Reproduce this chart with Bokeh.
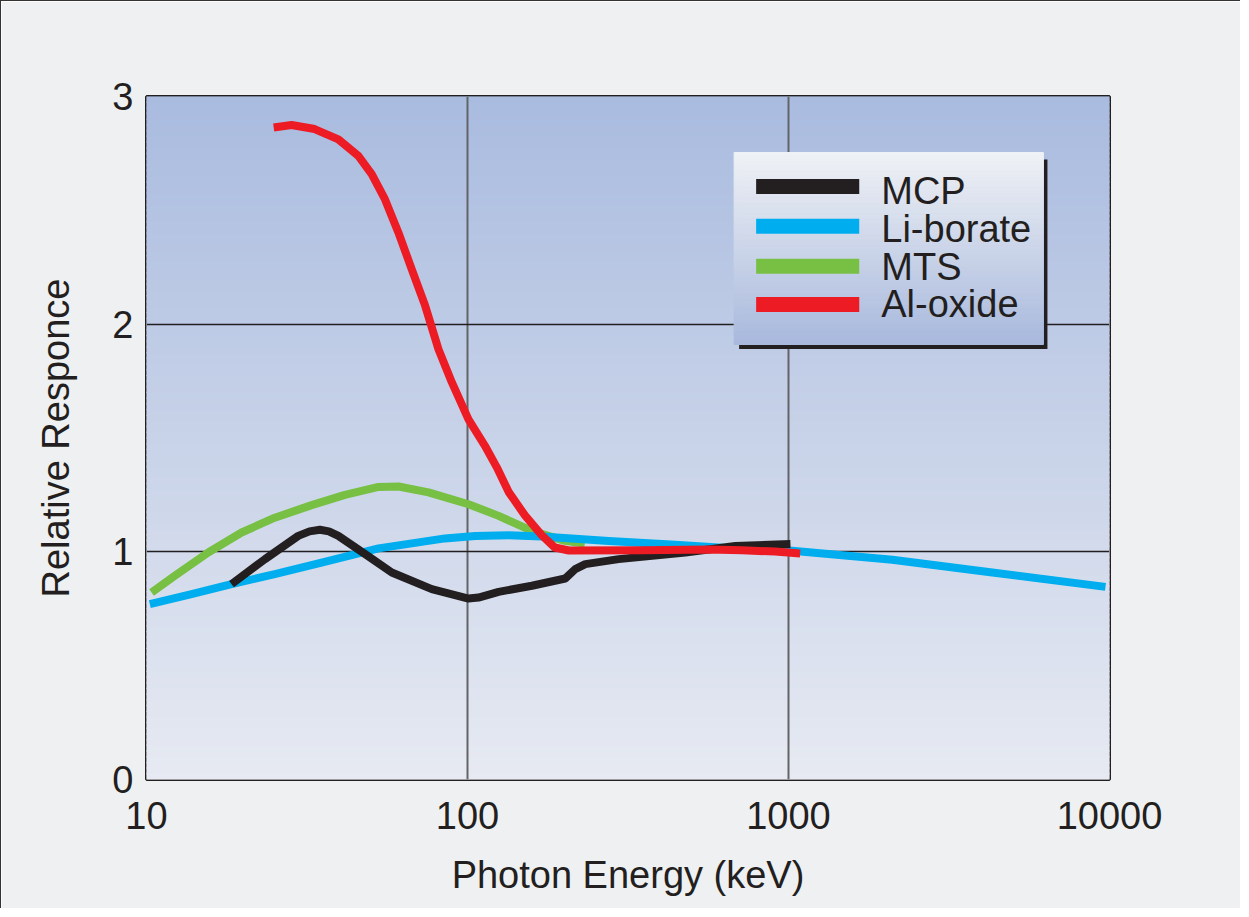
import numpy as np
from bokeh.plotting import figure
from bokeh.models import Range1d, FixedTicker, PrintfTickFormatter
from bokeh.core.properties import value
from bokeh.embed import file_html
from bokeh.resources import INLINE

# ---------------- data ----------------
x_ticks = [10, 100, 1000, 10000]
y_ticks = [0, 1, 2, 3]

mcp_x = [18.4, 23.4, 29.7, 32.2, 34.7, 37.0, 39.6, 48.0, 58.1, 77.4, 100.7, 108.2, 125, 158.7, 201.6, 216.6, 232.8, 295.8, 477, 683, 1014]
mcp_y = [0.858, 0.968, 1.070, 1.090, 1.097, 1.090, 1.070, 0.990, 0.909, 0.836, 0.795, 0.799, 0.824, 0.851, 0.883, 0.924, 0.946, 0.968, 0.997, 1.026, 1.034]

li_x = [10.24, 13.81, 18.4, 25.1, 35.1, 52.8, 85.1, 105.6, 134.3, 170.6, 275.4, 444, 717, 1027, 2105, 4315, 9716]
li_y = [0.770, 0.814, 0.858, 0.902, 0.953, 1.015, 1.059, 1.070, 1.073, 1.067, 1.048, 1.031, 1.012, 1.005, 0.965, 0.909, 0.846]

mts_x = [10.37, 12.25, 15.57, 19.78, 25.1, 32.7, 41.5, 52.8, 61.0, 75.6, 100.7, 125, 158.7, 201, 232]
mts_y = [0.821, 0.895, 0.997, 1.085, 1.150, 1.205, 1.250, 1.285, 1.287, 1.261, 1.209, 1.158, 1.092, 1.048, 1.037]

al_x = [24.9, 28.3, 33.4, 39.6, 45.7, 50.3, 55.3, 60.9, 67.0, 73.8, 81.2, 89.4, 100.7, 113.2, 123.5, 134.6, 151, 170.5, 187, 207, 350, 566, 717, 908, 1087]
al_y = [2.864, 2.875, 2.857, 2.812, 2.739, 2.659, 2.549, 2.403, 2.242, 2.081, 1.890, 1.744, 1.582, 1.467, 1.370, 1.261, 1.160, 1.072, 1.019, 1.006, 1.007, 1.010, 1.007, 1.001, 0.993]

series_names = ["MCP", "Li-borate", "MTS", "Al-oxide"]

# ---------------- styles ----------------
C_MCP = "#231f20"
C_LI = "#00aeef"
C_MTS = "#77c043"
C_AL = "#ed1c24"
TXT = "#231f20"
FONT = "Liberation Sans"

X0, X1 = 10, 10000
Y0, Y1 = 0, 3

# frame placement in page pixels (used only to place the legend decoration)
FR_L, FR_R, FR_T, FR_B = 155, 1117, 104, 787


def px_x(px):
    return 10 ** (np.log10(X0) + (np.log10(X1) - np.log10(X0)) * (px - FR_L) / (FR_R - FR_L))


def px_y(py):
    return Y0 + (Y1 - Y0) * (FR_B - py) / (FR_B - FR_T)


p = figure(width=1240, height=908, x_axis_type="log",
           x_range=Range1d(X0, X1), y_range=Range1d(Y0, Y1),
           output_backend="svg", toolbar_location=None,
           min_border_left=145, min_border_top=95,
           min_border_right=132, min_border_bottom=130)
p.styles = {"border-left": "1px solid #333333", "border-top": "1px solid #333333"}

p.background_fill_color = "#eff0f2"
p.border_fill_color = "#eff0f2"
p.outline_line_color = "#231f20"
p.outline_line_width = 3


def hexcol(c):
    return "#%02x%02x%02x" % tuple(int(round(v)) for v in c)


# gradient plot background (decoration)
n = 120
top_c = np.array([169, 187, 223])
bot_c = np.array([231, 234, 242])
edges = np.linspace(Y0, Y1, n + 1)
cols = [hexcol(bot_c + (top_c - bot_c) * (i + 0.5) / n) for i in range(n)]
p.quad(left=[X0] * n, right=[X1] * n, bottom=edges[:-1], top=edges[1:],
       fill_color=cols, line_color=cols, line_width=1.5, level="image")

# grid
p.xgrid.ticker = FixedTicker(ticks=x_ticks)
p.ygrid.ticker = FixedTicker(ticks=y_ticks)
p.xgrid.grid_line_color = "#636467"
p.xgrid.grid_line_width = 2
p.ygrid.grid_line_color = "#231f20"
p.ygrid.grid_line_width = 1.5
p.xgrid.minor_grid_line_color = None

# axes
for ax in (p.xaxis[0], p.yaxis[0]):
    ax.axis_line_color = None
    ax.major_tick_line_color = None
    ax.minor_tick_line_color = None
    ax.major_label_text_font = FONT
    ax.major_label_text_font_size = "38px"
    ax.major_label_text_color = TXT
    ax.axis_label_text_font = FONT
    ax.axis_label_text_font_size = "38px"
    ax.axis_label_text_font_style = "normal"
    ax.axis_label_text_color = TXT

p.xaxis.ticker = FixedTicker(ticks=x_ticks)
p.xaxis.formatter = PrintfTickFormatter(format="%d")
p.yaxis.ticker = FixedTicker(ticks=y_ticks)
p.yaxis.formatter = PrintfTickFormatter(format="%d")
p.xaxis.axis_label = "Photon Energy (keV)"
p.yaxis.axis_label = "Relative Responce"
p.xaxis.major_label_standoff = 16
p.xaxis.axis_label_standoff = 22
p.yaxis.major_label_standoff = 7
p.yaxis.axis_label_standoff = 32

# curves
LW = 8
p.line(mts_x, mts_y, line_color=C_MTS, line_width=LW, line_join="round")
p.line(li_x, li_y, line_color=C_LI, line_width=LW, line_join="round")
p.line(mcp_x, mcp_y, line_color=C_MCP, line_width=LW, line_join="round")
p.line(al_x, al_y, line_color=C_AL, line_width=LW, line_join="round")

# ---------------- legend (drawn as decoration) ----------------
LB_L, LB_R, LB_B, LB_T = px_x(742), px_x(1051), px_y(352), px_y(160)
SH_L, SH_R, SH_B, SH_T = px_x(747), px_x(1055), px_y(356.5), px_y(167)
p.quad(left=[SH_L], right=[SH_R], bottom=[SH_B], top=[SH_T],
       fill_color="#231f20", line_color=None)
m = 60
le = np.linspace(LB_B, LB_T, m + 1)
ltop = np.array([239, 241, 245])
lbot = np.array([168, 185, 221])
lcols = [hexcol(lbot + (ltop - lbot) * (i + 0.5) / m) for i in range(m)]
p.quad(left=[LB_L] * m, right=[LB_R] * m, bottom=le[:-1], top=le[1:],
       fill_color=lcols, line_color=lcols, line_width=1)

leg_cols = [C_MCP, C_LI, C_MTS, C_AL]
sw_rows = [194, 233.7, 273.7, 312]
txt_base = [198.5, 236.5, 274, 311.5]
k = len(series_names)
p.segment(x0=[px_x(764)] * k, x1=[px_x(867)] * k,
          y0=[px_y(r) for r in sw_rows], y1=[px_y(r) for r in sw_rows],
          line_color=leg_cols, line_width=15, line_cap="butt")
p.text(x=[px_x(889)] * k, y=[px_y(b) for b in txt_base], text=series_names,
       text_font=value(FONT), text_font_size="38px", text_color=TXT,
       text_align="left", text_baseline="alphabetic")

open("out.html", "w").write(file_html(p, INLINE))
